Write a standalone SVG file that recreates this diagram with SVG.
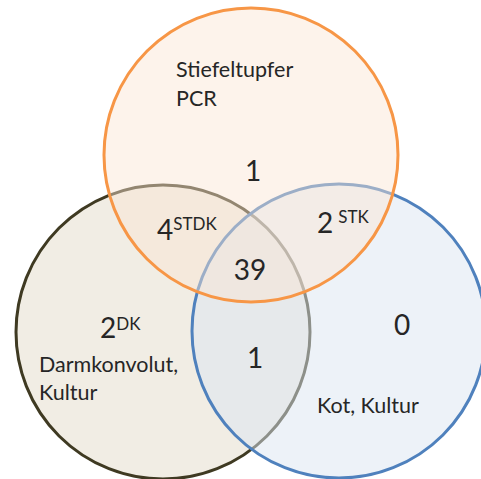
<svg xmlns="http://www.w3.org/2000/svg" width="481" height="479" viewBox="0 0 481 479">
<style>
.c{stroke-width:3}
.lbl{font-family:Lato,"Liberation Sans",sans-serif;font-size:21.5px;fill:#262626}
.num{font-family:Lato,"Liberation Sans",sans-serif;font-size:28px;fill:#262626}
.sup{font-size:17px}
</style>
<rect width="481" height="479" fill="#ffffff"/>
<g id="circle-darmkonvolut">
<circle class="c" cx="163" cy="332" r="147" fill="#E3DBC9" fill-opacity="0.5" stroke="#3F3A22"/>
</g>
<g id="circle-kot">
<circle class="c" cx="339" cy="331" r="147" fill="#DCE6F2" fill-opacity="0.5" stroke="#4F81BD"/>
</g>
<g id="circle-stiefeltupfer">
<circle class="c" cx="251" cy="155" r="147" fill="#FBE4D2" fill-opacity="0.45" stroke="#F79646"/>
</g>
<g id="labels">
<text class="lbl" x="176" y="77">Stiefeltupfer</text>
<text class="lbl" x="176" y="106">PCR</text>
<text class="num" x="253" y="181" text-anchor="middle">1</text>
<text class="num" x="157" y="240">4<tspan class="sup" dy="-10">STDK</tspan></text>
<text class="num" x="250" y="280" text-anchor="middle">39</text>
<text class="num" x="100" y="338">2<tspan class="sup" dy="-8">DK</tspan></text>
<text class="lbl" x="39" y="372">Darmkonvolut,</text>
<text class="lbl" x="39" y="400">Kultur</text>
<text class="num" x="255" y="368" text-anchor="middle">1</text>
<text class="num" x="317" y="233">2<tspan class="sup" dx="5" dy="-10">STK</tspan></text>
<text class="num" x="402" y="335" text-anchor="middle">0</text>
<text class="lbl" x="317" y="413">Kot, Kultur</text>
</g>
</svg>
